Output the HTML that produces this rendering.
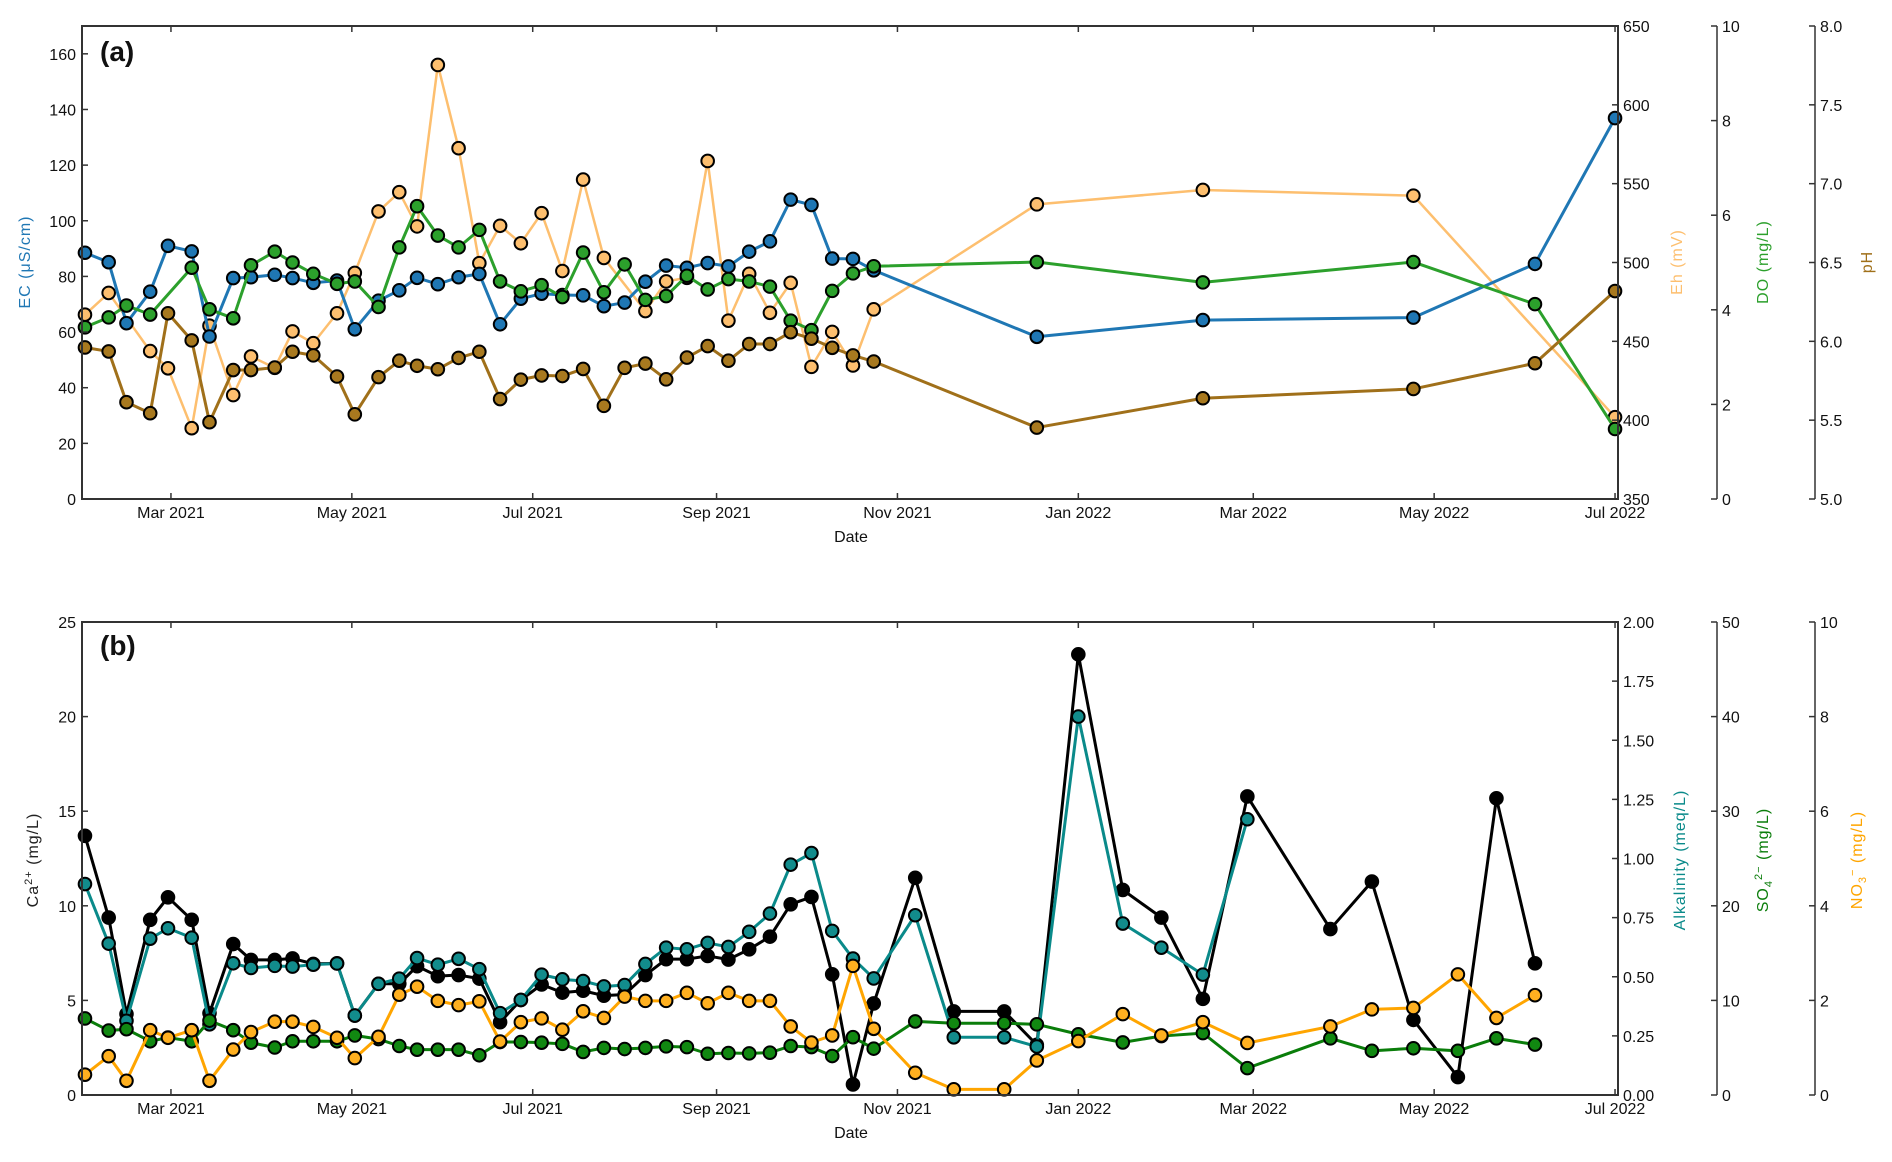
<!DOCTYPE html>
<html><head><meta charset="utf-8"><style>
body{margin:0;background:#fff;}
svg text{font-family:"Liberation Sans",sans-serif;}
</style></head><body>
<svg id="chart" width="1892" height="1157" viewBox="0 0 1892 1157" xmlns="http://www.w3.org/2000/svg"></svg>
<script>
const earlyDates=["2021-01-31","2021-02-08","2021-02-14","2021-02-22","2021-02-28","2021-03-08","2021-03-14","2021-03-22","2021-03-28","2021-04-05","2021-04-11","2021-04-18","2021-04-26","2021-05-02","2021-05-10","2021-05-17","2021-05-23","2021-05-30","2021-06-06","2021-06-13","2021-06-20","2021-06-27","2021-07-04","2021-07-11","2021-07-18","2021-07-25","2021-08-01","2021-08-08","2021-08-15","2021-08-22","2021-08-29","2021-09-05","2021-09-12","2021-09-19","2021-09-26","2021-10-03","2021-10-10","2021-10-17","2021-10-24"];
const datesA=earlyDates.concat(["2021-12-18","2022-02-12","2022-04-24","2022-06-04","2022-07-01"]);
const datesB=earlyDates.concat(["2021-11-07","2021-11-20","2021-12-07","2021-12-18","2022-01-01","2022-01-16","2022-01-29","2022-02-12","2022-02-27","2022-03-27","2022-04-10","2022-04-24","2022-05-09","2022-05-22","2022-06-04"]);
const ecVals=[88.5,85.1,63.2,74.5,91,89,58.4,79.4,79.7,80.6,79.4,77.7,78.5,61,71.3,75,79.5,77.2,79.7,80.9,62.8,72,73.8,73.3,73.2,69.3,70.6,78.1,83.9,83.1,84.8,83.6,88.9,92.6,107.6,105.7,86.4,86.3,82.2,58.3,64.3,65.2,84.5,136.9];
const ehVals=[466.9,480.7,null,443.8,432.9,394.9,459.9,415.9,440.4,433.2,456.3,448.8,467.8,493.4,532.4,544.6,522.9,625.3,572.5,499.6,523.3,512.2,531.3,494.6,552.6,502.9,null,469.2,488,490.3,564.4,463.1,492.8,468.1,487.1,433.8,456,434.7,470.3,536.9,546,542.4,null,401.9];
const doVals=[3.63,3.84,4.09,3.90,null,4.89,4.01,3.82,4.94,5.23,5.00,4.76,4.55,4.60,4.06,5.32,6.19,5.57,5.32,5.69,4.60,4.39,4.52,4.27,5.21,4.37,4.96,4.21,4.29,4.72,4.43,4.65,4.60,4.49,3.77,3.57,4.40,4.77,4.92,5.01,4.58,5.01,4.12,1.48];
const phVals=[5.961,5.936,5.614,5.544,6.178,6.006,5.487,5.818,5.818,5.834,5.934,5.911,5.777,5.537,5.773,5.877,5.845,5.823,5.895,5.934,5.634,5.757,5.784,5.780,5.825,5.591,5.832,5.859,5.759,5.897,5.970,5.877,5.983,5.983,6.058,6.017,5.959,5.911,5.872,5.453,5.639,5.698,5.861,6.319];
const caVals=[13.7,9.38,4.28,9.26,10.45,9.26,4.32,7.98,7.14,7.14,7.22,6.93,6.96,4.2,5.88,5.88,6.81,6.28,6.34,6.15,3.85,5.02,5.84,5.41,5.51,5.25,5.31,6.34,7.18,7.18,7.35,7.16,7.70,8.37,10.08,10.47,6.38,0.56,4.84,11.48,4.42,4.42,2.65,23.29,10.84,9.38,5.08,15.78,8.77,11.28,3.97,0.95,15.68,6.96];
const alkVals=[0.892,0.640,0.314,0.661,0.705,0.665,0.299,0.557,0.537,0.546,0.543,0.551,0.556,0.336,0.470,0.492,0.579,0.551,0.576,0.532,0.346,0.402,0.509,0.489,0.482,0.459,0.465,0.554,0.623,0.616,0.643,0.626,0.690,0.767,0.974,1.023,0.694,0.577,0.493,0.760,0.244,0.244,0.205,1.600,0.725,0.623,0.509,1.166,null,null,null,null,null,null];
const so4Vals=[8.09,6.81,6.96,5.68,6.07,5.68,7.86,6.85,5.53,5.02,5.68,5.68,5.68,6.30,5.91,5.18,4.79,4.79,4.79,4.20,5.60,5.60,5.53,5.41,4.55,4.98,4.86,4.98,5.14,5.06,4.36,4.44,4.40,4.47,5.18,5.06,4.12,6.11,4.90,7.78,7.59,7.59,7.47,6.42,5.56,6.23,6.54,2.84,5.99,4.67,4.94,4.67,5.99,5.33];
const no3Vals=[0.43,0.82,0.30,1.37,1.21,1.37,0.30,0.96,1.33,1.55,1.55,1.44,1.21,0.78,1.23,2.12,2.29,1.99,1.90,1.98,1.13,1.54,1.62,1.38,1.77,1.63,2.08,1.99,1.99,2.16,1.94,2.16,1.99,1.99,1.45,1.11,1.26,2.73,1.40,0.47,0.12,0.12,0.73,1.14,1.71,1.26,1.54,1.10,1.45,1.81,1.84,2.55,1.63,2.11];
const xTickDates=["2021-03-01","2021-05-01","2021-07-01","2021-09-01","2021-11-01","2022-01-01","2022-03-01","2022-05-01","2022-07-01"];
const xTickLabels=["Mar 2021","May 2021","Jul 2021","Sep 2021","Nov 2021","Jan 2022","Mar 2022","May 2022","Jul 2022"];
const ecTicks=[0,20,40,60,80,100,120,140,160];
const ehTicks=[350,400,450,500,550,600,650];
const doTicks=[0,2,4,6,8,10];
const phTicks=["5.0","5.5","6.0","6.5","7.0","7.5","8.0"];
const caTicks=[0,5,10,15,20,25];
const alkTicks=["0.00","0.25","0.50","0.75","1.00","1.25","1.50","1.75","2.00"];
const so4Ticks=[0,10,20,30,40,50];
const no3Ticks=[0,2,4,6,8,10];

const NS="http://www.w3.org/2000/svg";
const svg=document.getElementById('chart');
const L=82,R=1618;
const d0=Date.UTC(2021,0,30),d1=Date.UTC(2022,6,2);
function xs(s){const p=s.split('-');const t=Date.UTC(+p[0],+p[1]-1,+p[2]);return L+(t-d0)/(d1-d0)*(R-L);}
function el(tag,attrs,parent){const e=document.createElementNS(NS,tag);for(const k in attrs)e.setAttribute(k,attrs[k]);(parent||svg).appendChild(e);return e;}
function lin(lo,hi,top,bot){return v=>bot-(v-lo)/(hi-lo)*(bot-top);}
function txt(x,y,s,attrs){const t=el('text',Object.assign({x:x,y:y,'font-size':16,fill:'#111'},attrs||{}));t.textContent=s;return t;}

function drawFrame(top,bot,g){
  const f=el('rect',{x:L,y:top,width:R-L,height:bot-top,fill:'none',stroke:'#333','stroke-width':2},g);
  
  xTickDates.forEach((d,i)=>{const x=xs(d);
    el('line',{x1:x,x2:x,y1:bot,y2:bot-6,stroke:'#333','stroke-width':1.5},g);
    el('line',{x1:x,x2:x,y1:top,y2:top+6,stroke:'#333','stroke-width':1.5},g);
    const t=txt(x,bot+19,xTickLabels[i],{'text-anchor':'middle'});
    });
  const dl=txt(851,bot+43,'Date',{'text-anchor':'middle'});
  
}
function leftAxis(ticks,lo,hi,top,bot){
  const y=lin(lo,hi,top,bot);
  ticks.forEach(v=>{const yy=y(+v);el('line',{x1:L,x2:L+6,y1:yy,y2:yy,stroke:'#333','stroke-width':1.5});
    const t=txt(L-6,yy+6,String(v),{'text-anchor':'end'});});
}
function rightAxis(x,ticks,lo,hi,top,bot,inside,spine,name){
  const y=lin(lo,hi,top,bot);
  if(spine){const s=el('line',{x1:x,x2:x,y1:top,y2:bot,stroke:'#333','stroke-width':1.5});}
  ticks.forEach(v=>{const yy=y(+v);el('line',{x1:x,x2:x-6,y1:yy,y2:yy,stroke:'#333','stroke-width':1.5});
    const t=txt(x+5,yy+6,String(v));});
}
function vlabel(x,y,s,color,name,html){
  const t=el('text',{x:0,y:0,'font-size':16,fill:color,'text-anchor':'middle',transform:`translate(${x},${y}) rotate(-90)`,'letter-spacing':'1'});
  if(html)t.innerHTML=html;else t.textContent=s;
  
}
function series(dates,vals,ymap,lineColor,fill,name,lw){
  const g=el('g',{});
  const pts=[];dates.forEach((d,i)=>{if(vals[i]!=null)pts.push([xs(d),ymap(vals[i])]);});
  const p=el('polyline',{points:pts.map(p=>p.join(',')).join(' '),fill:'none',stroke:lineColor,'stroke-width':lw||3,'stroke-linejoin':'round'},g);
  
  pts.forEach(q=>{const c=el('circle',{cx:q[0],cy:q[1],r:6.3,fill:fill,stroke:'#000','stroke-width':2},g);
    });
}

// Panel A
const aT=26,aB=499;
const yEC=lin(0,170,aT,aB), yEh=lin(350,650,aT,aB), yDO=lin(0,10,aT,aB), yPH=lin(5,8,aT,aB);
series(datesA,ehVals,yEh,'#fdbf6f','#fdbf6f','eh-series',2.5);
series(datesA,ecVals,yEC,'#1f77b4','#1f77b4','ec-series');
series(datesA,doVals,yDO,'#2ca02c','#2ca02c','do-series');
series(datesA,phVals,yPH,'#a0701a','#a8791f','ph-series');
drawFrame(aT,aB,svg);
leftAxis(ecTicks,0,170,aT,aB);
rightAxis(R,ehTicks,350,650,aT,aB,true,false,'eh-axis');
rightAxis(1717,doTicks,0,10,aT,aB,false,true,'do-axis');
rightAxis(1815,phTicks,5,8,aT,aB,false,true,'ph-axis');
vlabel(30,262,'EC (μS/cm)','#1f77b4','ec-axis-title');
vlabel(1682,262,'Eh (mV)','#fdbf6f','eh-axis-title');
vlabel(1768,262,'DO (mg/L)','#2ca02c','do-axis-title');
vlabel(1872,262,'pH','#a0701a','ph-axis-title');
const la=txt(100,61,'(a)',{'font-size':28,'font-weight':'bold'});

// Panel B
const bT=622,bB=1095;
const yCa=lin(0,25,bT,bB), yAlk=lin(0,2,bT,bB), ySO=lin(0,50,bT,bB), yNO=lin(0,10,bT,bB);
series(datesB,caVals,yCa,'#000','#000','ca-series');
series(datesB,alkVals,yAlk,'#0a8a8a','#128c8c','alkalinity-series');
series(datesB,so4Vals,ySO,'#0a7d0a','#118811','so4-series');
series(datesB,no3Vals,yNO,'#ffa500','#ffb020','no3-series');
drawFrame(bT,bB,svg);
leftAxis(caTicks,0,25,bT,bB);
rightAxis(R,alkTicks,0,2,bT,bB,true,false,'alkalinity-axis');
rightAxis(1717,so4Ticks,0,50,bT,bB,false,true,'so4-axis');
rightAxis(1815,no3Ticks,0,10,bT,bB,false,true,'no3-axis');
vlabel(38,860,'','#222','ca-axis-title','Ca<tspan dy="-6" font-size="11">2+</tspan><tspan dy="6">  (mg/L)</tspan>');
vlabel(1685,860,'Alkalinity (meq/L)','#0a8a8a','alkalinity-axis-title');
vlabel(1768,860,'','#0a7d0a','so4-axis-title','SO<tspan dy="4" font-size="11">4</tspan><tspan dy="-10" font-size="11">2−</tspan><tspan dy="6">   (mg/L)</tspan>');
vlabel(1862,860,'','#ffa500','no3-axis-title','NO<tspan dy="4" font-size="11">3</tspan><tspan dy="-10" font-size="11">−</tspan><tspan dy="6">  (mg/L)</tspan>');
const lb=txt(100,655,'(b)',{'font-size':28,'font-weight':'bold'});
</script>
</body></html>
